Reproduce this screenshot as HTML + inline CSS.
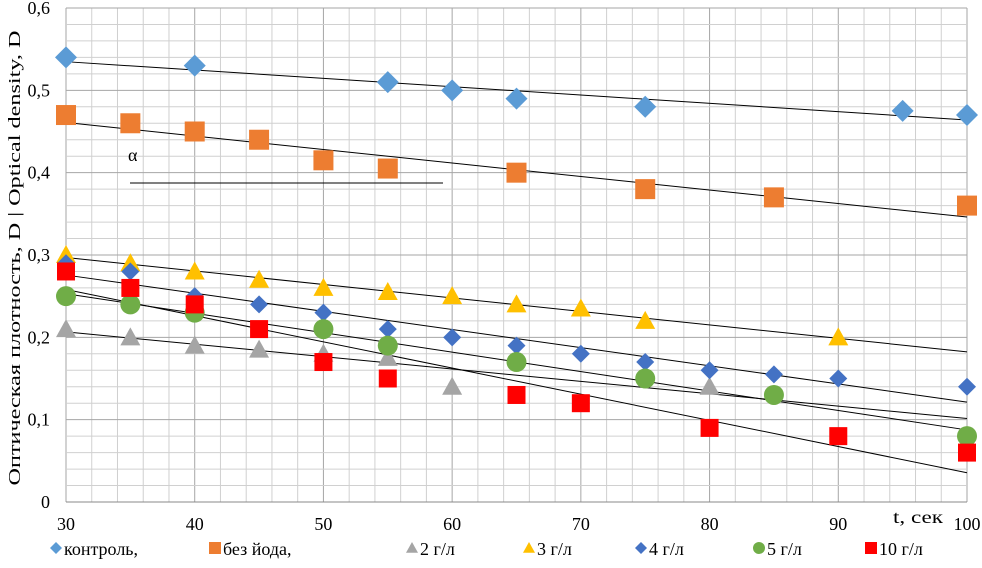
<!DOCTYPE html>
<html><head><meta charset="utf-8"><style>
body{margin:0;background:#fff;}
svg text{font-family:"Liberation Serif",serif;fill:#000;}
</style></head><body>
<svg id="c" width="982" height="563" xmlns="http://www.w3.org/2000/svg">
<g id="grid"></g>
<g id="trends"></g>
<g id="marks"></g>
<g id="axes"></g>
<text x="128" y="161" font-size="18">α</text>
<line x1="130" y1="183" x2="443" y2="183" stroke="#000" stroke-width="1"/>
<text x="20" y="258" font-size="17" transform="rotate(-90 20 258)" text-anchor="middle" textLength="455" lengthAdjust="spacingAndGlyphs">Оптическая плотность, D | Optical density, D</text>
<text x="893" y="523" font-size="18" textLength="50" lengthAdjust="spacingAndGlyphs">t, сек</text>
<g id="legend"></g>
</svg>
<script>
const xTicks=[30,40,50,60,70,80,90,100];
const yTicks=[0,0.1,0.2,0.3,0.4,0.5,0.6];
const yTickLabels=["0","0,1","0,2","0,3","0,4","0,5","0,6"];
const seriesNames=["контроль,","без йода,","2 г/л","3 г/л","4 г/л","5 г/л","10 г/л"];
const tKontrol=[30,40,55,60,65,75,95,100];
const vKontrol=[0.54,0.53,0.51,0.50,0.49,0.48,0.475,0.47];
const tBez=[30,35,40,45,50,55,65,75,85,100];
const vBez=[0.47,0.46,0.45,0.44,0.415,0.405,0.40,0.38,0.37,0.36];
const t2=[30,35,40,45,50,55,60,80];
const v2=[0.21,0.20,0.19,0.185,0.18,0.175,0.14,0.14];
const t3=[30,35,40,45,50,55,60,65,70,75,90];
const v3=[0.30,0.29,0.28,0.27,0.26,0.255,0.25,0.24,0.235,0.22,0.20];
const t4=[30,35,40,45,50,55,60,65,70,75,80,85,90,100];
const v4=[0.29,0.28,0.25,0.24,0.23,0.21,0.20,0.19,0.18,0.17,0.16,0.155,0.15,0.14];
const t5=[30,35,40,50,55,65,75,85,100];
const v5=[0.25,0.24,0.23,0.21,0.19,0.17,0.15,0.13,0.08];
const t10=[30,35,40,45,50,55,65,70,80,90,100];
const v10=[0.28,0.26,0.24,0.21,0.17,0.15,0.13,0.12,0.09,0.08,0.06];

const X0=66,X1=967,Y0=502,Y1=8;
const xs=t=>X0+(t-30)/70*(X1-X0);
const ys=v=>Y0-v/0.6*(Y0-Y1);
const NS="http://www.w3.org/2000/svg";
function mk(tag,attrs,parent){const e=document.createElementNS(NS,tag);for(const k in attrs)e.setAttribute(k,attrs[k]);parent.appendChild(e);return e;}
const grid=document.getElementById('grid'),axes=document.getElementById('axes');
for(let t=30;t<=100;t+=2){const l=mk('line',{x1:xs(t),x2:xs(t),y1:Y1,y2:Y0,stroke:(t%10==0)?'#a6a6a6':'#d0d0d0','stroke-width':1},grid);

}
for(let i=0;i<=30;i++){const v=i*0.02;const l=mk('line',{x1:X0,x2:X1,y1:ys(v),y2:ys(v),stroke:(i%5==0)?'#a6a6a6':'#d0d0d0','stroke-width':1},grid);

}
const ax=mk('line',{x1:X0,x2:X1,y1:Y0,y2:Y0,stroke:'#888','stroke-width':1},axes);


xTicks.forEach(t=>{const tx=mk('text',{x:xs(t),y:530,'font-size':18,'text-anchor':'middle'},axes);tx.textContent=t;

});
yTicks.forEach((v,i)=>{const tx=mk('text',{x:50,y:ys(v)+6,'font-size':18,'text-anchor':'end'},axes);tx.textContent=yTickLabels[i];

});

const series=[[tKontrol,vKontrol,'diamond','#5b9bd5',11],[tBez,vBez,'square','#ed7d31',10],[t2,v2,'triangle','#a5a5a5',10],[t3,v3,'triangle','#ffc000',10],[t4,v4,'diamond','#4472c4',9],[t5,v5,'circle','#70ad47',10],[t10,v10,'square','#ff0000',9]];
function marker(type,cx,cy,r,col,parent){
 if(type=='diamond')return mk('polygon',{points:`${cx},${cy-r} ${cx+r},${cy} ${cx},${cy+r} ${cx-r},${cy}`,fill:col},parent);
 if(type=='square')return mk('rect',{x:cx-r,y:cy-r,width:2*r,height:2*r,fill:col},parent);
 if(type=='triangle')return mk('polygon',{points:`${cx},${cy-r} ${cx+r},${cy+r*0.8} ${cx-r},${cy+r*0.8}`,fill:col},parent);
 return mk('circle',{cx:cx,cy:cy,r:r,fill:col},parent);}
const trends=document.getElementById('trends'),marks=document.getElementById('marks');
series.forEach((s,si)=>{
 const [T,V]=s;const n=T.length;const mt=T.reduce((a,b)=>a+b)/n,mv=V.reduce((a,b)=>a+b)/n;
 let sxy=0,sxx=0;for(let i=0;i<n;i++){sxy+=(T[i]-mt)*(V[i]-mv);sxx+=(T[i]-mt)**2;}
 const b=sxy/sxx,a=mv-b*mt;
 const l=mk('line',{x1:xs(30),y1:ys(a+b*30),x2:xs(100),y2:ys(a+b*100),stroke:'#000','stroke-width':1},trends);
 
 
 T.forEach((t,i)=>{const m=marker(s[2],xs(t),ys(V[i]),s[4],s[3],marks);
  
  });
});
const lg=document.getElementById('legend');
const lx=[56,215,412,529,641,759,871];
series.forEach((s,i)=>{const m=marker(s[2],lx[i],548,6,s[3],lg);
 
 
 const tx=mk('text',{x:lx[i]+8,y:555,'font-size':18},lg);tx.textContent=seriesNames[i];
 
 });
</script>
</body></html>
